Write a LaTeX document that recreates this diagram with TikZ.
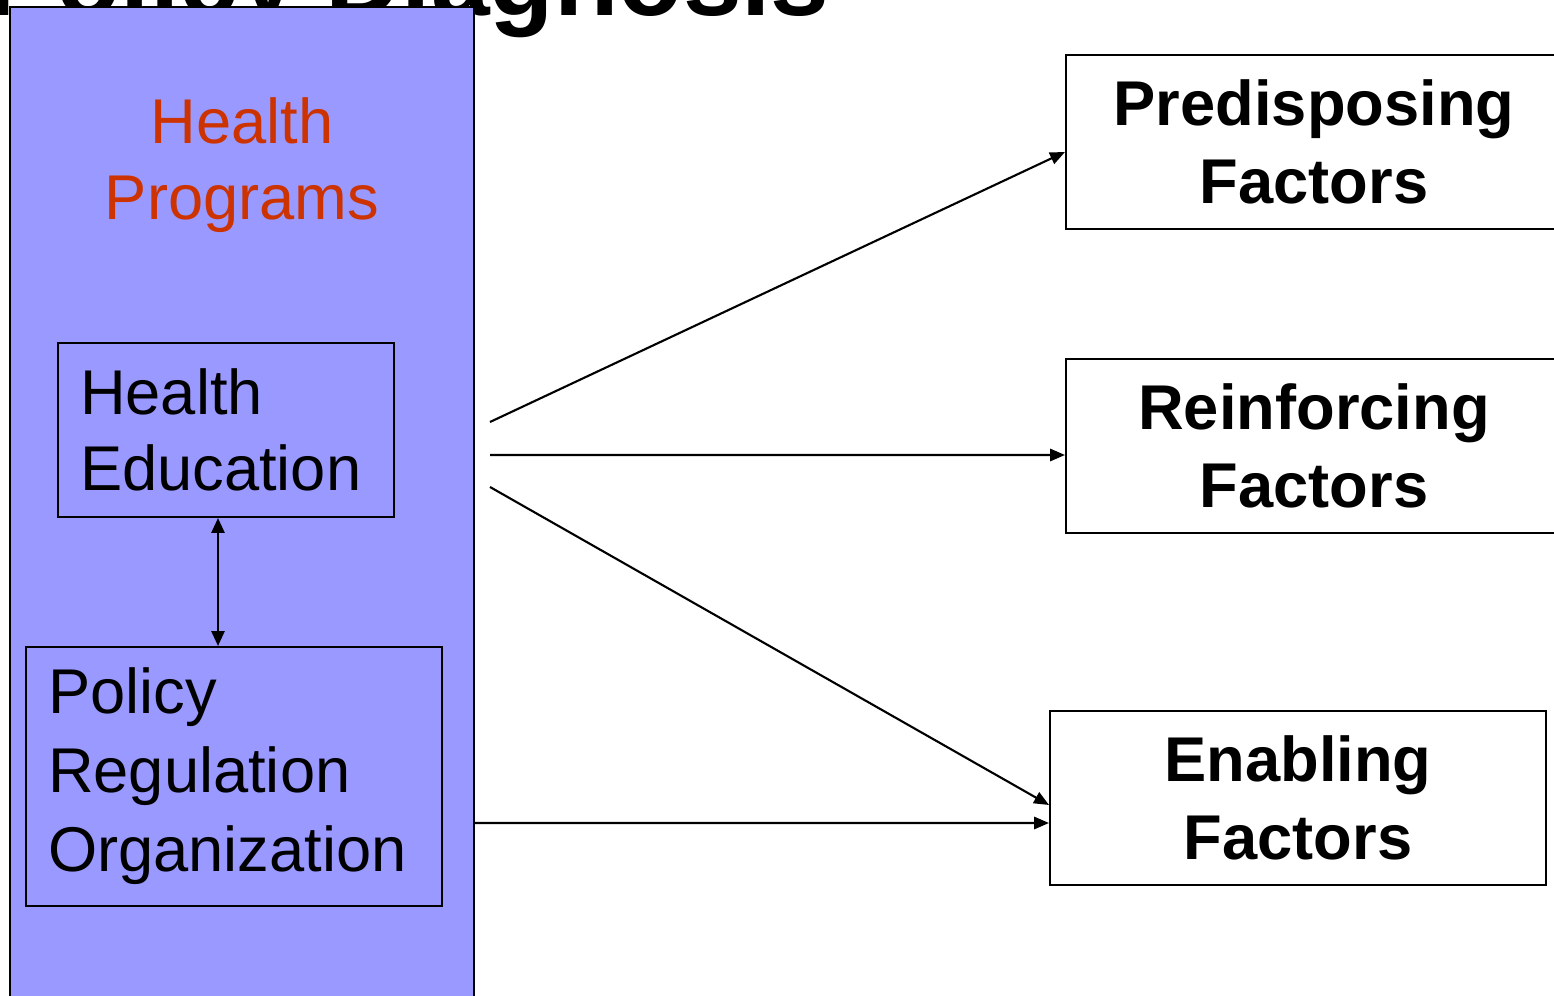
\documentclass[tikz,border=0pt]{standalone}
\usepackage{fontspec}
\setmainfont{Liberation Sans}
\usetikzlibrary{arrows.meta}
\definecolor{progblue}{HTML}{9999FF}
\definecolor{progred}{HTML}{CC3300}
\tikzset{link/.style={-{Triangle[length=8.5pt,width=7pt]},line width=1.2pt},
biglink/.style={{Triangle[length=8.5pt,width=7.5pt]}-{Triangle[length=8.5pt,width=7.5pt]},line width=1.2pt},
inbox/.style={draw,line width=1.2pt,align=left,inner xsep=0.44cm,font=\fontsize{36}{45}\selectfont},
factor/.style={draw,line width=1.2pt,fill=white,align=center,minimum width=9.92cm,minimum height=3.48cm,font=\bfseries\fontsize{36}{44}\selectfont}}

\begin{document}
\begin{tikzpicture}[x=0.02cm,y=-0.02cm]
\useasboundingbox (0,0) rectangle (1554,996);
\clip (0,0) rectangle (1554,996);
\node[anchor=base east,inner sep=0,font=\bfseries\fontsize{60}{60}\selectfont] (title) at (830,16) {Policy Diagnosis};
\node[draw,line width=1.2pt,fill=progblue,minimum width=9.28cm,minimum height=20.26cm] (prog) at (242,513.5) {};
\node[align=center,text=progred,font=\fontsize{36}{43}\selectfont] (progname) at (242,165) {Health\\Programs};
\node[inbox,minimum width=6.72cm,minimum height=3.48cm,text width=5.84cm,font=\fontsize{36}{43}\selectfont] (edu) at (226,430) {Health\\Education};
\node[inbox,minimum width=8.32cm,minimum height=5.18cm,text width=7.44cm] (pol) at (234,776.5) {Policy\\Regulation\\Organization};
\draw[biglink] ([xshift=-0.16cm]edu.south) -- ([xshift=-0.16cm]edu.south |- pol.north);
\node[factor] (pre) at (1314,142) {Predisposing\\Factors};
\node[factor] (rei) at (1314,446) {Reinforcing\\Factors};
\node[factor] (enb) at (1298,798) {Enabling\\Factors};
\coordinate (out1) at (490,422);
\coordinate (out2) at (490,455);
\coordinate (out3) at (490,487);
\coordinate (out4) at (474,823);
\draw[link] (out1) -- ([yshift=-0.2cm]pre.west);
\draw[link] (out2) -- ([yshift=-0.18cm]rei.west);
\draw[link] (out3) -- ([yshift=-0.14cm]enb.west);
\draw[link] (out4) -- ([yshift=-0.5cm]enb.west);
\end{tikzpicture}
\end{document}
